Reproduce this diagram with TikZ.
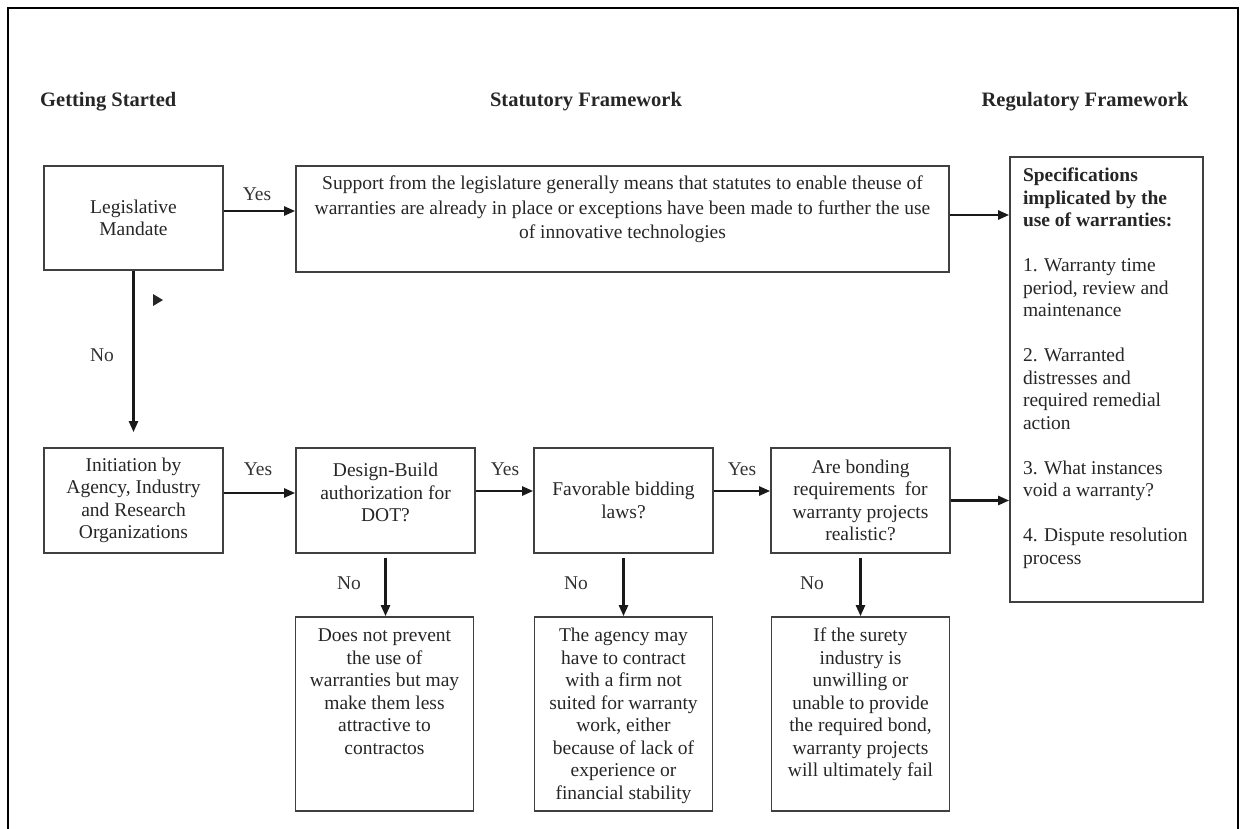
\documentclass[tikz,border=0pt]{standalone}
\usepackage{fontspec}
\setmainfont{Liberation Serif}
\usetikzlibrary{arrows.meta}

\tikzset{
  box/.style={draw=black!75, line width=1.7pt, inner sep=0pt, align=center, text=black!85},
  midbox/.style={box, minimum width=179, minimum height=105},
  lowbox/.style={box, minimum width=178, minimum height=194},
  flow/.style={draw=black!90, line width=2.4pt, -{Triangle[length=11pt,width=9pt]}},
  lbl/.style={text=black!80, inner sep=0pt},
  head/.style={font=\fontsize{20.5}{24}\selectfont\bfseries, text=black!85, inner sep=0pt}
}
\newcommand{\toptext}[3]{\parbox[c][#2][t]{#1}{\centering\strut #3}}

\begin{document}
\begin{tikzpicture}[x=1pt, y=-1pt, font=\fontsize{19.5}{22.5}\selectfont]
\useasboundingbox (0,0) rectangle (1241,829);
\draw[line width=2.7pt] (8,829) -- (8,8) -- (1238,8) -- (1238,829);

\node[head, anchor=west] (hstart) at (40,102) {Getting Started};
\node[head] (hstat) at (586,102) {Statutory Framework};
\node[head] (hreg) at (1085,102) {Regulatory Framework};

\node[box, minimum width=179, minimum height=104] (mand) at (133.5,218) {Legislative\\Mandate};
\node[box, minimum width=653, minimum height=106] (big) at (622.5,219) {\toptext{650pt}{90pt}{\fontsize{19.5}{24.5}\selectfont Support from the legislature generally means that statutes to enable theuse of\\warranties are already in place or exceptions have been made to further the use\\of innovative technologies}};
\node[box, minimum width=193, minimum height=445] (spec) at (1106.5,379.5) {\parbox[c][427pt][t]{167pt}{\raggedright\strut\textbf{Specifications\\implicated by the\\use of warranties:}\\[22.5pt]1. Warranty time\\period, review and\\maintenance\\[22.5pt]2. Warranted\\distresses and\\required remedial\\action\\[22.5pt]3. What instances\\void a warranty?\\[22.5pt]4. Dispute resolution\\process}};

\node[midbox] (init) at (133.5,500.5) {Initiation by\\Agency, Industry\\and Research\\Organizations};
\node[midbox] (dbuild) at (385.5,500.5) {Design-Build\\authorization for\\DOT?\\[-6.5pt]\mbox{}};
\node[midbox] (favor) at (623.5,500.5) {Favorable bidding\\laws?};
\node[midbox] (bond) at (860.5,500.5) {Are bonding\\requirements\ \ for\\warranty projects\\realistic?};

\node[lowbox] (dbno) at (384.5,714) {\toptext{170pt}{176pt}{Does not prevent\\the use of\\warranties but may\\make them less\\attractive to\\contractos}};
\node[lowbox] (favno) at (623.5,714) {\toptext{170pt}{176pt}{The agency may\\have to contract\\with a firm not\\suited for warranty\\work, either\\because of lack of\\experience or\\financial stability}};
\node[lowbox] (bondno) at (860.5,714) {\toptext{170pt}{176pt}{If the surety\\industry is\\unwilling or\\unable to provide\\the required bond,\\warranty projects\\will ultimately fail}};

\node[lbl] (yes1) at (257,194) {Yes};
\node[lbl] (no1) at (102,355) {No};
\node[lbl] (yes2) at (258,469) {Yes};
\node[lbl] (yes3) at (505,469) {Yes};
\node[lbl] (yes4) at (742,469) {Yes};
\node[lbl] (no2) at (349,583) {No};
\node[lbl] (no3) at (576,583) {No};
\node[lbl] (no4) at (812,583) {No};

\draw[flow] ([yshift=7pt]mand.east) -- ([yshift=7pt]mand.east -| big.west);
\draw[flow] ([yshift=4pt]big.east) -- ([yshift=4pt]big.east -| spec.west);
\draw[flow] (mand.south) -- ([yshift=15pt]init.north);
\fill[black!85] (153,294) -- (163,300) -- (153,306) -- cycle;
\draw[flow] ([yshift=7.5pt]init.east) -- ([yshift=7.5pt]init.east -| dbuild.west);
\draw[flow] ([yshift=9.5pt]dbuild.east) -- ([yshift=9.5pt]dbuild.east -| favor.west);
\draw[flow] ([yshift=9.5pt]favor.east) -- ([yshift=9.5pt]favor.east -| bond.west);
\draw[flow] (bond.east) -- (bond.east -| spec.west);
\draw[flow] ([yshift=-4pt]dbuild.south) -- (dbuild.south |- dbno.north);
\draw[flow] ([yshift=-4pt]favor.south) -- (favor.south |- favno.north);
\draw[flow] ([yshift=-4pt]bond.south) -- (bond.south |- bondno.north);
\end{tikzpicture}
\end{document}
